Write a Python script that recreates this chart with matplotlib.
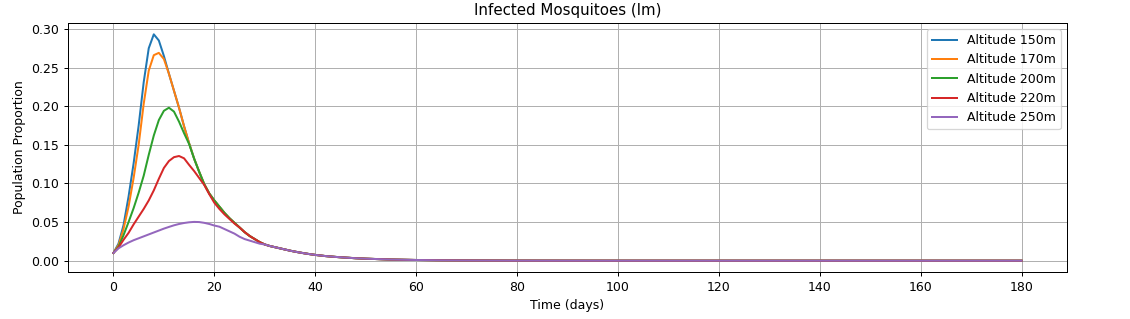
import matplotlib
matplotlib.use("Agg")
import matplotlib.pyplot as plt
import numpy as np

# Time points (days)
t_early = list(range(0, 30))
t_tail = [30, 31, 32, 33, 34, 35, 36, 37, 38, 39, 40, 42, 44, 46, 48, 50,
          55, 60, 65, 70, 80, 90, 100, 120, 140, 160, 180]

# Early phase values (t = 0..29) for each altitude
im_150 = [0.010, 0.022, 0.046, 0.083, 0.126, 0.175, 0.231, 0.275, 0.293, 0.285,
          0.265, 0.242, 0.220, 0.198, 0.174, 0.152, 0.132, 0.115, 0.099, 0.087,
          0.078, 0.070, 0.062, 0.055, 0.049, 0.043, 0.037, 0.032, 0.028, 0.024]
im_170 = [0.010, 0.020, 0.041, 0.070, 0.107, 0.150, 0.203, 0.246, 0.266, 0.269,
          0.261, 0.242, 0.220, 0.198, 0.174, 0.152, 0.132, 0.115, 0.099, 0.087,
          0.078, 0.070, 0.062, 0.055, 0.049, 0.043, 0.037, 0.032, 0.028, 0.024]
im_200 = [0.010, 0.018, 0.033, 0.050, 0.068, 0.088, 0.110, 0.137, 0.162, 0.182,
          0.194, 0.198, 0.193, 0.180, 0.165, 0.151, 0.132, 0.115, 0.099, 0.087,
          0.078, 0.070, 0.062, 0.055, 0.049, 0.043, 0.037, 0.032, 0.028, 0.024]
im_220 = [0.010, 0.017, 0.027, 0.036, 0.047, 0.057, 0.067, 0.078, 0.091, 0.106,
          0.120, 0.129, 0.134, 0.1355, 0.1325, 0.124, 0.116, 0.107, 0.098, 0.086,
          0.075, 0.067, 0.060, 0.054, 0.048, 0.043, 0.037, 0.032, 0.028, 0.024]
im_250 = [0.010, 0.016, 0.020, 0.0235, 0.0265, 0.029, 0.0315, 0.034, 0.0365, 0.039,
          0.0415, 0.0437, 0.0458, 0.0475, 0.0488, 0.0497, 0.0502, 0.050, 0.049, 0.0475,
          0.0455, 0.044, 0.041, 0.038, 0.035, 0.031, 0.028, 0.026, 0.024, 0.022]

# Common late-phase values (all altitudes converge)
im_tail = [0.021, 0.019, 0.0175, 0.016, 0.0145, 0.013, 0.0117, 0.0105, 0.0094, 0.0084,
           0.0075, 0.006, 0.0049, 0.004, 0.0032, 0.0026, 0.0015, 0.0009, 0.0005, 0.0003,
           0.0001, 0.00004, 0.00001, 0.0, 0.0, 0.0, 0.0]

labels = ["Altitude 150m", "Altitude 170m", "Altitude 200m", "Altitude 220m", "Altitude 250m"]
series = [im_150, im_170, im_200, im_220, im_250]

t = np.array(t_early + t_tail)

DPI = 90
fig, ax = plt.subplots(figsize=(1130 / DPI, 319 / DPI), dpi=DPI)
fig.subplots_adjust(left=0.0602, right=0.9442, bottom=0.1473, top=0.9279)

for lab, s in zip(labels, series):
    ax.plot(t, np.array(s + im_tail), label=lab, linewidth=1.6)

ax.set_title("Infected Mosquitoes (Im)")
ax.set_xlabel("Time (days)")
ax.set_ylabel("Population Proportion")
ax.set_xticks(np.arange(0, 181, 20))
ax.grid(True)
ax.legend(loc="upper right")

fig.savefig("out.png", dpi=DPI)
